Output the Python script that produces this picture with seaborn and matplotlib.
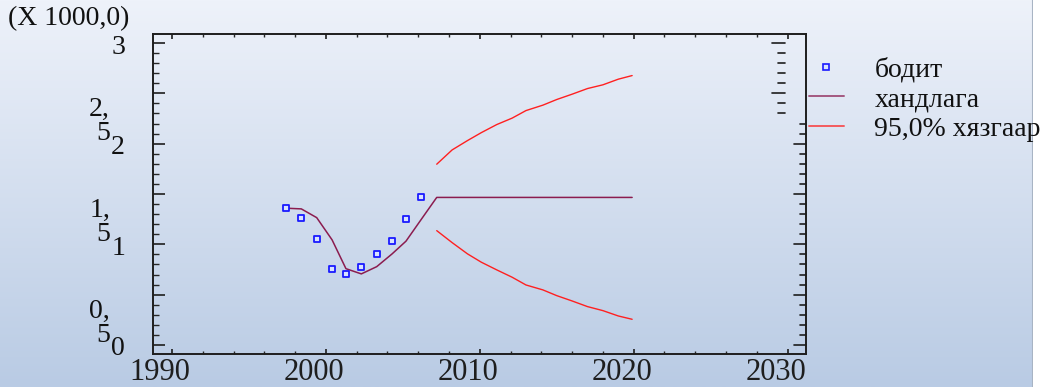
import numpy as np
import pandas as pd
import matplotlib
matplotlib.use("Agg")
import matplotlib.pyplot as plt
import matplotlib.transforms as mtransforms
from matplotlib.lines import Line2D
from matplotlib.colors import LinearSegmentedColormap
import seaborn as sns

# ==========================================================
# DATA (values in thousands)
# ==========================================================

obs_years = [1997.4, 1998.4, 1999.4, 2000.4, 2001.3, 2002.3, 2003.3, 2004.3, 2005.2, 2006.2]
observed = [1.359, 1.265, 1.051, 0.758, 0.706, 0.775, 0.905, 1.031, 1.249, 1.468]
fitted = [1.359, 1.352, 1.265, 1.044, 0.758, 0.706, 0.778, 0.905, 1.031, 1.249]

fc_years = [2007.2, 2008.2, 2009.2, 2010.1, 2011.1, 2012.1, 2013.0,
            2014.1, 2015.0, 2016.0, 2017.0, 2018.0, 2019.0, 2019.9]
forecast = [1.466, 1.466, 1.466, 1.466, 1.466, 1.466, 1.466,
            1.466, 1.466, 1.466, 1.466, 1.466, 1.466, 1.466]
upper = [1.796, 1.938, 2.031, 2.110, 2.190, 2.254, 2.329,
         2.383, 2.439, 2.492, 2.548, 2.585, 2.641, 2.677]
lower = [1.136, 1.017, 0.905, 0.822, 0.746, 0.673, 0.596,
         0.547, 0.490, 0.437, 0.381, 0.341, 0.288, 0.255]

x_ticks = [1990, 2000, 2010, 2020, 2030]
y_int_labels = ["0", "1", "2", "3"]
y_half_labels = ["0,\n5", "1,\n5", "2,\n5"]
legend_labels = ["бодит", "хандлага", "95,0% хязгаар"]
scale_note = "(X 1000,0)"

# ==========================================================
# STYLE
# ==========================================================

sns.set_theme(style="ticks")
plt.rcParams['font.family'] = ['Liberation Serif', 'DejaVu Serif']
plt.rcParams['font.size'] = 20

TREND_COLOR = "#8b1c4f"
LIMIT_COLOR = "#ff2020"
POINT_COLOR = "#1a1aff"
AXIS_COLOR = "#1e1e1e"

trend_df = pd.DataFrame({"year": obs_years + fc_years, "value": fitted + forecast})
upper_df = pd.DataFrame({"year": fc_years, "value": upper})
lower_df = pd.DataFrame({"year": fc_years, "value": lower})
obs_df = pd.DataFrame({"year": obs_years, "value": observed})

fig = plt.figure(figsize=(10.43, 3.87), dpi=100)
fig.patch.set_facecolor("white")

# gradient background
bg = fig.add_axes([0, 0, 1033 / 1043, 1], zorder=-10)
cmap = LinearSegmentedColormap.from_list("bg", ["#eef2fa", "#b9cbe4"])
bg.imshow(np.linspace(0, 1, 256).reshape(-1, 1), aspect="auto", cmap=cmap,
          extent=[0, 1, 0, 1])
bg.axvline(1, color="#a8b4c4", lw=1.5)
bg.set_axis_off()

ax = fig.add_axes([153 / 1043, 33 / 387, 653 / 1043, 320 / 387])
ax.set_facecolor("none")

sns.lineplot(data=trend_df, x="year", y="value", ax=ax, color=TREND_COLOR,
             lw=1.1, sort=False, estimator=None)
sns.lineplot(data=upper_df, x="year", y="value", ax=ax, color=LIMIT_COLOR,
             lw=1.0, sort=False, estimator=None)
sns.lineplot(data=lower_df, x="year", y="value", ax=ax, color=LIMIT_COLOR,
             lw=1.0, sort=False, estimator=None)
sns.scatterplot(data=obs_df, x="year", y="value", ax=ax, marker="s", s=22,
                facecolor="#d8e2ff", edgecolor=POINT_COLOR, linewidth=1.3, zorder=5)

ax.set_xlim(1988.76, 2031.2)
ax.set_ylim(-0.09, 3.09)
ax.set_xlabel("")
ax.set_ylabel("")

for side in ["left", "right", "top", "bottom"]:
    ax.spines[side].set_color(AXIS_COLOR)
    ax.spines[side].set_linewidth(1.4)

ax.set_xticks(x_ticks)
ax.set_xticks(np.arange(1992, 2031, 2), minor=True)
ax.set_xticklabels([str(t) for t in x_ticks])
ax.tick_params(axis="x", which="major", direction="in", length=3.6, width=1.2,
               top=True, bottom=True, pad=3, labelsize=22, colors=AXIS_COLOR)
ax.tick_params(axis="x", which="minor", direction="in", length=2.2, width=1.0,
               top=True, bottom=True)
shift = mtransforms.ScaledTranslation(-12 / 100, 0, fig.dpi_scale_trans)
for lab in ax.get_xticklabels():
    lab.set_transform(lab.get_transform() + shift)

# y ticks: major every 0.5, minor every 0.1; labels drawn as text
ax.set_yticks(np.arange(0, 3.01, 0.5))
ax.set_yticks(np.arange(0, 3.01, 0.1), minor=True)
ax.tick_params(axis="y", which="major", direction="in", length=8.6, width=1.2,
               left=True, right=False, labelleft=False, colors=AXIS_COLOR)
ax.tick_params(axis="y", which="minor", direction="in", length=4.3, width=1.0,
               left=True, right=False)

# right side ticks (lower part on the spine, upper part displaced)
trans = ax.get_yaxis_transform()
for v in np.arange(0, 2.21, 0.1):
    major = abs(v * 2 - round(v * 2)) < 1e-6
    ln = 12 if major else 6
    ax.plot([1 - ln / 653, 1], [v, v], transform=trans, color=AXIS_COLOR,
            lw=1.2, clip_on=False)
for v in np.arange(2.3, 3.01, 0.1):
    major = abs(v * 2 - round(v * 2)) < 1e-6
    x0 = (772 - 153) / 653 if major else (778 - 153) / 653
    ax.plot([x0, (785 - 153) / 653], [v, v], transform=trans, color=AXIS_COLOR,
            lw=1.2, clip_on=False)

down = mtransforms.ScaledTranslation(0, -4 / 100, fig.dpi_scale_trans)
for i, lab in enumerate(y_int_labels):
    ax.text(-28 / 653, i, lab, transform=trans + down, ha="right", va="center",
            fontsize=20, color="#111111")
for i, lab in enumerate(y_half_labels):
    ax.text(-43 / 653, i + 0.5, lab, transform=trans + down, ha="right", va="top",
            fontsize=20, color="#111111", linespacing=0.95)

fig.text(8 / 1043, 1 - 6 / 387, scale_note, ha="left", va="top", fontsize=20,
         color="#111111")

handles = [
    Line2D([], [], ls="none", marker="s", ms=4, mfc="#d8e2ff", mec=POINT_COLOR, mew=1.2),
    Line2D([], [], color=TREND_COLOR, lw=1.4, alpha=0.7),
    Line2D([], [], color=LIMIT_COLOR, lw=1.4, alpha=0.7),
]
leg = fig.legend(handles, legend_labels, loc="upper left",
                 bbox_to_anchor=(809 / 1043, 1 - 57 / 387), frameon=False,
                 fontsize=20, handlelength=1.25, handletextpad=1.1,
                 labelspacing=0.15, borderpad=0, borderaxespad=0)
for t in leg.get_texts():
    t.set_color("#111111")

fig.savefig("out.png", dpi=100)
